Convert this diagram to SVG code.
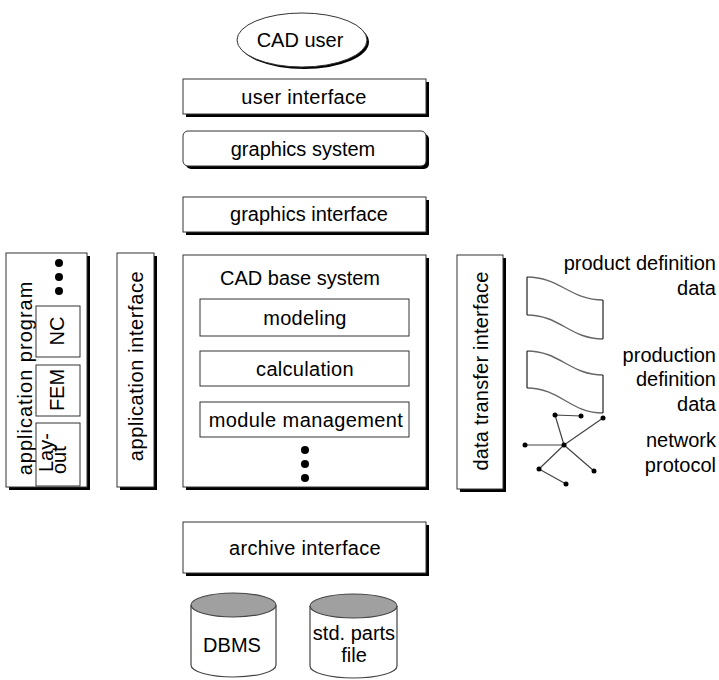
<svg xmlns="http://www.w3.org/2000/svg" width="719" height="680" viewBox="0 0 719 680">
<style>
  text { font-family: "Liberation Sans", Arial, sans-serif; font-size: 20px; fill: #000; }
  .mid { text-anchor: middle; }
  .end { text-anchor: end; }
  .box { fill: #fff; stroke: #333; stroke-width: 1; }
  .shadow { fill: #000; }
  .flag { fill: none; stroke: #666; stroke-width: 1.4; }
  .flagside { stroke: #222; stroke-width: 1.2; }
  .net { stroke: #444; stroke-width: 1.2; fill: none; }
  .dot { fill: #000; }
  .drum { fill: #fff; stroke: #444; stroke-width: 1.2; }
  .drumtop { fill: #a0a0a0; stroke: #444; stroke-width: 1.2; }
</style>

<!-- user at the top -->
<g id="cad-user">
  <ellipse class="shadow" cx="304" cy="42" rx="65" ry="27"/>
  <ellipse class="box" cx="302" cy="40" rx="65" ry="27"/>
  <text class="mid" x="300" y="47">CAD user</text>
</g>

<g id="user-interface">
  <rect class="shadow" x="186" y="82" width="243" height="35"/>
  <rect class="box" x="183" y="79" width="243" height="35"/>
  <text class="mid" x="304" y="104" letter-spacing="0.3">user interface</text>
</g>

<g id="graphics-system">
  <rect class="shadow" x="186" y="134" width="243" height="35" rx="5"/>
  <rect class="box" x="183" y="131" width="243" height="35" rx="5"/>
  <text class="mid" x="303" y="156">graphics system</text>
</g>

<g id="graphics-interface">
  <rect class="shadow" x="186" y="200" width="243" height="35"/>
  <rect class="box" x="183" y="197" width="243" height="35"/>
  <text class="mid" x="309" y="221">graphics interface</text>
</g>

<!-- core system with its modules -->
<g id="cad-base-system">
  <rect class="shadow" x="186" y="258" width="243" height="232"/>
  <rect class="box" x="183" y="255" width="243" height="232"/>
  <text class="mid" x="300" y="285">CAD base system</text>
</g>
<g id="modeling">
  <rect class="box" x="200" y="299" width="209" height="37"/>
  <text class="mid" x="305" y="325" letter-spacing="0.3">modeling</text>
</g>
<g id="calculation">
  <rect class="box" x="200" y="351" width="209" height="35"/>
  <text class="mid" x="305" y="376" letter-spacing="0.3">calculation</text>
</g>
<g id="module-management">
  <rect class="box" x="200" y="402" width="209" height="35"/>
  <text class="mid" x="306" y="427" letter-spacing="0.4">module management</text>
</g>
<g id="base-more">
  <circle class="dot" cx="305" cy="450" r="4"/>
  <circle class="dot" cx="305" cy="464" r="4"/>
  <circle class="dot" cx="305" cy="478" r="4"/>
</g>

<!-- application side -->
<g id="application-program">
  <rect class="shadow" x="9" y="256" width="81" height="234"/>
  <rect class="box" x="6" y="253" width="81" height="234"/>
  <text class="mid" transform="translate(32,378) rotate(-90)" letter-spacing="1">application program</text>
  <circle class="dot" cx="59" cy="263" r="4"/>
  <circle class="dot" cx="59" cy="277" r="4"/>
  <circle class="dot" cx="59" cy="291" r="4"/>
</g>
<g id="nc">
  <rect class="box" x="36" y="306" width="44" height="51"/>
  <text class="mid" transform="translate(64,331) rotate(-90)">NC</text>
</g>
<g id="fem">
  <rect class="box" x="36" y="365" width="44" height="51"/>
  <text class="mid" transform="translate(64,390) rotate(-90)">FEM</text>
</g>
<g id="layout">
  <rect class="box" x="36" y="423" width="44" height="63"/>
  <text transform="translate(53,472) rotate(-90)">Lay-</text>
  <text transform="translate(66,474) rotate(-90)">out</text>
</g>

<g id="application-interface">
  <rect class="shadow" x="120" y="256" width="37" height="234"/>
  <rect class="box" x="117" y="253" width="37" height="234"/>
  <text class="mid" transform="translate(143,366) rotate(-90)" letter-spacing="0.6">application interface</text>
</g>

<!-- exchange side -->
<g id="data-transfer-interface">
  <rect class="shadow" x="460" y="258" width="46" height="234"/>
  <rect class="box" x="457" y="255" width="46" height="234"/>
  <text class="mid" transform="translate(488,371) rotate(-90)" letter-spacing="0.2">data transfer interface</text>
</g>

<g id="product-definition-data">
  <path class="flag" d="M527,277 C560,277 570,300 603,300 M527,315 C560,315 570,339 603,339"/>
  <path class="flagside" d="M527,277 V315 M603,300 V339"/>
  <text class="end" x="716" y="270">product definition</text>
  <text class="end" x="716" y="295">data</text>
</g>

<g id="production-definition-data">
  <path class="flag" d="M527,351 C560,351 570,375 603,375 M527,388 C560,388 570,413 603,413"/>
  <path class="flagside" d="M527,351 V388 M603,375 V413"/>
  <text class="end" x="716" y="362">production</text>
  <text class="end" x="716" y="386">definition</text>
  <text class="end" x="716" y="411">data</text>
</g>

<g id="network-protocol">
  <path class="net" d="M555,415 L581,416 M555,415 L564,445 M603,418 L564,445 M525,445 L564,445 M564,445 L539,469 M564,445 L594,471 M539,469 L566,484"/>
  <circle class="dot" cx="555" cy="415" r="2.5"/>
  <circle class="dot" cx="581" cy="416" r="2.5"/>
  <circle class="dot" cx="603" cy="418" r="2.5"/>
  <circle class="dot" cx="525" cy="445" r="2.5"/>
  <circle class="dot" cx="564" cy="445" r="2.5"/>
  <circle class="dot" cx="539" cy="469" r="2.5"/>
  <circle class="dot" cx="594" cy="471" r="2.5"/>
  <circle class="dot" cx="566" cy="484" r="2.5"/>
  <text class="end" x="716" y="447">network</text>
  <text class="end" x="716" y="472">protocol</text>
</g>

<!-- storage -->
<g id="archive-interface">
  <rect class="shadow" x="186" y="525" width="243" height="51"/>
  <rect class="box" x="183" y="522" width="243" height="51"/>
  <text class="mid" x="305" y="555" letter-spacing="0.3">archive interface</text>
</g>

<g id="dbms">
  <path class="drum" d="M191,605 V665 A42.5,12 0 0 0 276,665 V605"/>
  <ellipse class="drumtop" cx="233.5" cy="605" rx="42.5" ry="12"/>
  <text class="mid" x="232" y="652">DBMS</text>
</g>

<g id="std-parts-file">
  <path class="drum" d="M310,606 V666 A43.5,12 0 0 0 397,666 V606"/>
  <ellipse class="drumtop" cx="353.5" cy="606" rx="43.5" ry="12"/>
  <text class="mid" x="354" y="640">std. parts</text>
  <text class="mid" x="354" y="662">file</text>
</g>

<g id="connectors"></g>
</svg>
